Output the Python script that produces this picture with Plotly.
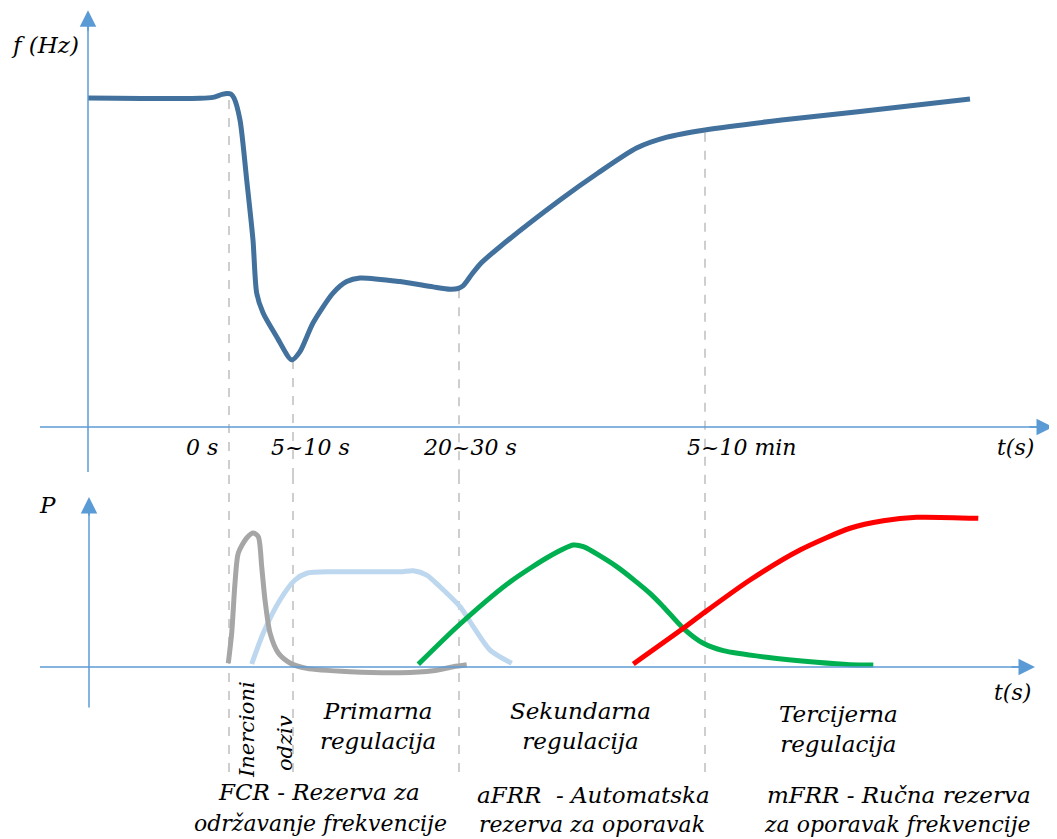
import plotly.graph_objects as go

# ---------------- data (schematic time units t, normalised f and P) ----------------
# frequency response (top panel)
f_t = [0, 112, 125, 134, 139, 143, 146, 152, 158.7, 165, 168.7, 175, 188.7, 203.7, 212, 225,
       245, 258.7, 272, 312, 345, 362, 370, 375, 379, 384, 392, 412, 472, 510, 548.6, 579,
       617, 693.7, 770, 882]
f_val = [1.000, 0.999, 1.002, 1.011, 1.014, 1.012, 1.000, 0.933, 0.751, 0.568, 0.407, 0.347,
         0.274, 0.204, 0.229, 0.316, 0.407, 0.442, 0.453, 0.442, 0.426, 0.419, 0.421, 0.429,
         0.444, 0.465, 0.495, 0.548, 0.690, 0.772, 0.848, 0.881, 0.903, 0.933, 0.958, 0.997]

# inertial response (gray)
inert_t = [140.3, 143.7, 147, 150.3, 158.7, 165.3, 170.3, 173.7, 177, 182, 190.3, 202, 218.7,
           262, 312, 345, 365.3, 378.7]
inert_p = [0.025, 0.227, 0.56, 0.76, 0.86, 0.893, 0.869, 0.669, 0.447, 0.227, 0.093, 0.027,
           -0.009, -0.031, -0.038, -0.025, 0.002, 0.015]

# primary control (light blue)
prim_t = [163.7, 175.3, 192, 207, 218.7, 245, 312, 325.3, 338.7, 352, 372, 385.3, 402, 423.7]
prim_p = [0.02, 0.227, 0.447, 0.58, 0.625, 0.635, 0.635, 0.642, 0.613, 0.535, 0.402, 0.269,
          0.113, 0.025]

# secondary control (green)
sec_t = [330.3, 371, 422, 462, 485.3, 495.3, 528.7, 562, 575.3, 595.3, 615.3, 635.3, 678.7,
         728.7, 762, 785.3]
sec_p = [0.018, 0.28, 0.567, 0.74, 0.813, 0.802, 0.669, 0.491, 0.402, 0.258, 0.158, 0.109,
         0.065, 0.031, 0.015, 0.013]

# tertiary control (red)
ter_t = [545.3, 595.3, 615.3, 662, 712, 762, 795.3, 828.7, 890.3]
ter_p = [0.02, 0.258, 0.358, 0.58, 0.78, 0.925, 0.975, 0.998, 0.991]

# event markers (dashed lines) and their top-panel start values
event_t = [141, 205, 371, 617]
event_f = [0.994, 0.204, 0.419, 0.894]

# time tick labels (top panel)
tick_t = [114, 222, 382, 653]
tick_labels = ["0 s", "5~10 s", "20~30 s", "5~10 min"]

# ---------------- figure ----------------
OFF = 8                      # page body margin
W, H = 1057 - OFF, 838 - OFF
AX = "#5B9BD5"
DASH = "#BFBFBF"
FONT = dict(family="DejaVu Serif", size=23, color="#000000", style="italic")

# screen mapping: t = px - 88 ; top f = (427 - py)/329 ; bottom P = (667 - py)/150
split_py = 475
top_range = [(427 - split_py) / 329, (427 - OFF) / 329]
bot_range = [(667 - (OFF + H)) / 150, (667 - split_py) / 150]
split_frac = (OFF + H - split_py) / H

fig = go.Figure()

fig.add_trace(go.Scatter(x=f_t, y=f_val, mode="lines", yaxis="y",
                         line=dict(color="#41719C", width=5, shape="spline", smoothing=0.7)))
fig.add_trace(go.Scatter(x=prim_t, y=prim_p, mode="lines", yaxis="y2",
                         line=dict(color="#BDD7EE", width=5, shape="spline", smoothing=0.7)))
fig.add_trace(go.Scatter(x=inert_t, y=inert_p, mode="lines", yaxis="y2",
                         line=dict(color="#A6A6A6", width=5, shape="spline", smoothing=0.7)))
fig.add_trace(go.Scatter(x=sec_t, y=sec_p, mode="lines", yaxis="y2",
                         line=dict(color="#00B050", width=5, shape="spline", smoothing=0.7)))
fig.add_trace(go.Scatter(x=ter_t, y=ter_p, mode="lines", yaxis="y2",
                         line=dict(color="#FF0000", width=5, shape="spline", smoothing=0.7)))

shapes = []
for t, fv in zip(event_t, event_f):
    shapes.append(dict(type="line", xref="x", yref="y", x0=t, x1=t, y0=fv, y1=top_range[0],
                       line=dict(color=DASH, width=1.5, dash="dash"), layer="below"))
    shapes.append(dict(type="line", xref="x", yref="y2", x0=t, x1=t, y0=bot_range[1], y1=-0.7,
                       line=dict(color=DASH, width=1.5, dash="dash"), layer="below"))

# axis lines (without arrow part)
shapes += [
    dict(type="line", xref="x", yref="y", x0=-48, x1=955, y0=0, y1=0, line=dict(color=AX, width=1.5)),
    dict(type="line", xref="x", yref="y", x0=0, x1=0, y0=-0.137, y1=1.24, line=dict(color=AX, width=1.5)),
    dict(type="line", xref="x", yref="y2", x0=-48, x1=937, y0=0, y1=0, line=dict(color=AX, width=1.5)),
    dict(type="line", xref="x", yref="y2", x0=1, x1=1, y0=-0.27, y1=1.07, line=dict(color=AX, width=1.5)),
]

annotations = []
def arrow(x, y, ax, ay, yref):
    return dict(x=x, y=y, ax=ax, ay=ay, xref="x", yref=yref, axref="x", ayref=yref,
                text="", showarrow=True, arrowhead=2, arrowsize=2.2, arrowwidth=1.5,
                arrowcolor=AX, standoff=0, startstandoff=0)

annotations += [
    arrow(965, 0, 940, 0, "y"),
    arrow(0, 1.267, 0, 1.2, "y"),
    arrow(947, 0, 922, 0, "y2"),
    arrow(1, 1.133, 1, 1.0, "y2"),
]

def label(text, x, y, yref, size=23, angle=0):
    return dict(text=text, x=x, y=y, xref="x", yref=yref, showarrow=False,
                font=dict(FONT, size=size), textangle=angle, align="center",
                xanchor="center", yanchor="middle")

annotations.append(label("f (Hz)", -43, 1.161, "y"))
for t, txt in zip(tick_t, tick_labels):
    annotations.append(label(txt, t, -0.062, "y", size=22))
annotations.append(label("t(s)", 927, -0.062, "y", size=22))

annotations += [
    label("P", -41, 1.08, "y2"),
    label("t(s)", 924, -0.167, "y2", size=22),
    label("Inercioni", 159, -0.42, "y2", size=21, angle=-90),
    label("odziv", 197, -0.507, "y2", size=21, angle=-90),
    label("Primarna<br>regulacija", 290, -0.393, "y2"),
    label("Sekundarna<br>regulacija", 492, -0.393, "y2"),
    label("Tercijerna<br>regulacija", 750, -0.41, "y2"),
    label("FCR - Rezerva za", 231, -0.833, "y2"),
    label("održavanje frekvencije", 232, -1.045, "y2", size=22),
    label("aFRR  - Automatska", 505, -0.853, "y2"),
    label("rezerva za oporavak", 504, -1.05, "y2", size=22),
    label("mFRR - Ručna rezerva", 811, -0.853, "y2"),
    label("za oporavak frekvencije", 809, -1.05, "y2", size=22),
]

fig.update_layout(
    width=W, height=H,
    margin=dict(l=0, r=0, t=0, b=0),
    paper_bgcolor="white", plot_bgcolor="white",
    showlegend=False,
    xaxis=dict(range=[OFF - 88, OFF + W - 88], visible=False, fixedrange=True),
    yaxis=dict(domain=[split_frac, 1], range=top_range, visible=False),
    yaxis2=dict(domain=[0, split_frac], range=bot_range, visible=False),
    shapes=shapes,
    annotations=annotations,
)

fig.write_html("out.html")
